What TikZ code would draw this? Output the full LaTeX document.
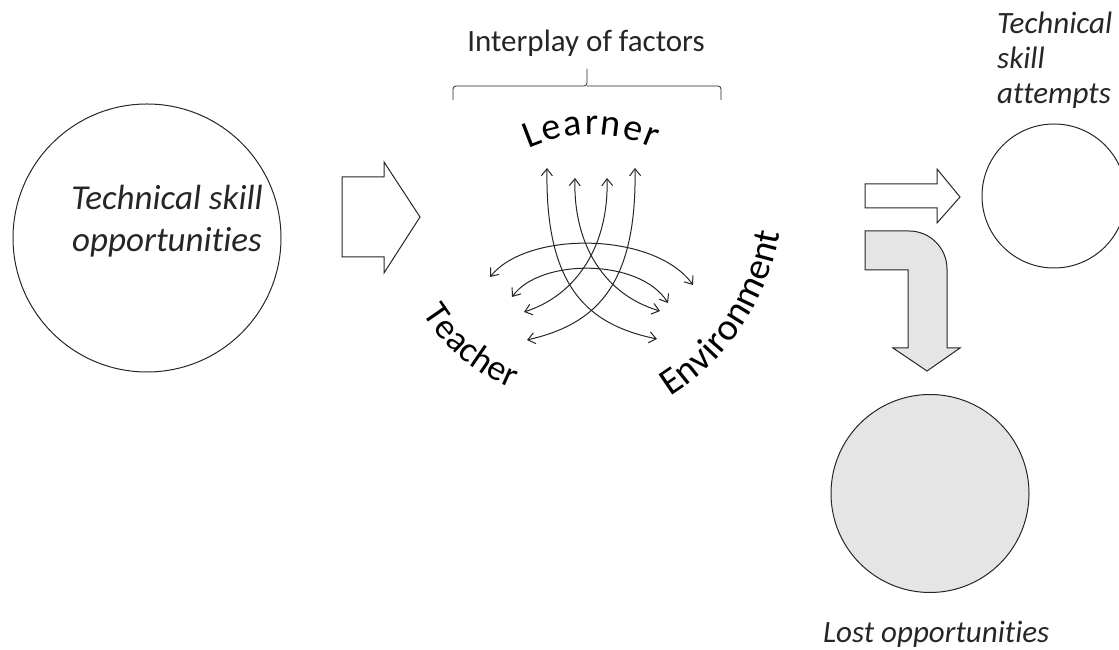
\documentclass[tikz,border=0pt]{standalone}
\usepackage{fontspec}
\setmainfont{Carlito}[Ligatures=NoCommon]
\usetikzlibrary{arrows.meta,decorations.text}
\colorlet{ink}{black!85}
\tikzset{
    outline-circle/.style = {draw=ink, circle, line width=1pt, inner sep=0pt},
    block-arrow/.style = {draw=ink, line width=1pt, line join=miter},
    lost-fill/.style = {fill=gray!20},
    factor-arrow/.style = {line width=1pt, {Straight Barb[length=7pt,width=11pt]}-{Straight Barb[length=7pt,width=11pt]}},
    italic-label/.style = {font=\itshape, inner sep=0pt, text=ink},
}
\newcommand{\arcfont}{\fontsize{38}{38}\selectfont}

\begin{document}
\begin{tikzpicture}[x=1pt, y=1pt, color=ink]
\useasboundingbox (0,0) rectangle (1119,650);

% opportunities on the left
\node[outline-circle, minimum size=268pt] (opp) at (147,412) {};
\node[italic-label, align=center, font=\itshape\fontsize{35}{42}\selectfont] (opp-text) at (167,429) {Technical skill\\opportunities};
\draw[block-arrow] (342,473) -- (384,473) -- (384,488) -- (420,433) -- (384,377) -- (384,393) -- (342,393) -- cycle;

% interplay of factors
\node[font=\fontsize{31}{31}\selectfont, anchor=base, inner sep=0pt] (interplay) at (586,598) {Interplay of factors};
\draw[line width=0.8pt, rounded corners=3pt] (453,550) |- (587,564) -- (587,581);
\draw[line width=0.8pt, rounded corners=3pt] (721,550) |- (587,564);

\path[decorate, decoration={text along path, text align=fit to path, text={|\arcfont|Learner}}]
    (591,361) ++(114:154) arc[start angle=114, end angle=66, radius=154];
\path[decorate, decoration={text along path, text align=fit to path, text={|\fontsize{36}{36}\selectfont|Teacher}}]
    (582,436) ++(212:188) arc[start angle=212, end angle=248, radius=188];
\path[decorate, decoration={text along path, text align=fit to path, text={|\arcfont|Environment}}]
    (543,457) ++(-58:240) arc[start angle=-58, end angle=-9.5, radius=240];

\draw[factor-arrow] (547,482) .. controls (545,360) and (590,325) .. (657,311);
\draw[factor-arrow] (575,472) .. controls (573,405) and (605,355) .. (660,339);
\draw[factor-arrow] (607,472) .. controls (609,405) and (577,355) .. (524,338);
\draw[factor-arrow] (635,482) .. controls (637,360) and (592,325) .. (527,310);
\draw[factor-arrow] (490,373) .. controls (528,420) and (655,418) .. (693,365);
\draw[factor-arrow] (512,353) .. controls (540,392) and (640,392) .. (668,347);

% outcomes on the right
\draw[block-arrow] (865,466) -- (937,466) -- (937,481) -- (960,453) -- (937,427) -- (937,442) -- (865,442) -- cycle;
\node[outline-circle, minimum size=144pt] (attempts) at (1054,454) {};
\node[italic-label, align=left, anchor=west, font=\itshape\fontsize{31}{35}\selectfont] (attempts-text) at (997,590) {Technical\\skill\\attempts};

\draw[block-arrow, lost-fill] (865,419) -- (909,419) arc[start angle=90, end angle=0, radius=38] -- (947,302) -- (960,302) -- (927,279) -- (893,302) -- (908,302) -- (908,380) -- (865,380) -- cycle;
\node[outline-circle, lost-fill, minimum size=198pt] (lost) at (930,156.5) {};
\node[italic-label, font=\itshape\fontsize{31}{31}\selectfont, anchor=base west] (lost-text) at (823,7) {Lost opportunities};
\end{tikzpicture}
\end{document}
